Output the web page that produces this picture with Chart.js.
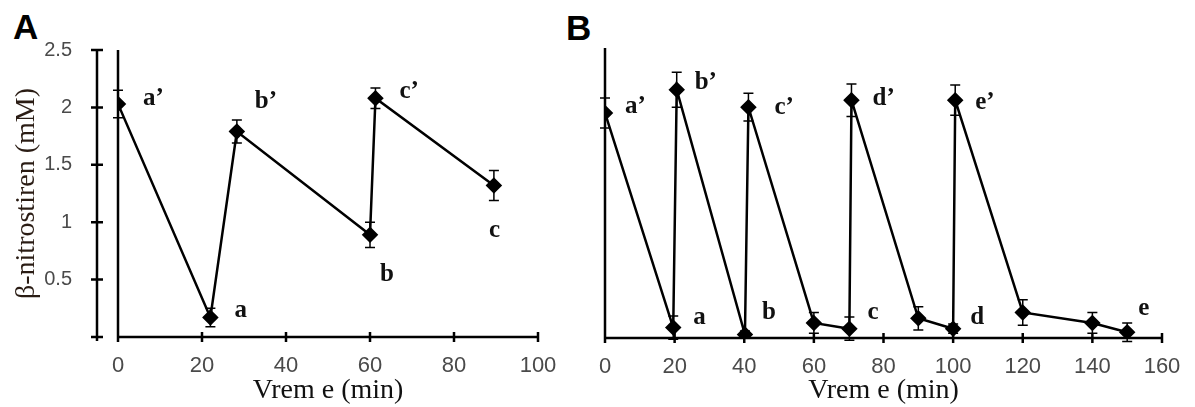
<!DOCTYPE html>
<html>
<head>
<meta charset="utf-8">
<script src="https://cdn.jsdelivr.net/npm/chart.js@4/dist/chart.umd.min.js"></script>
<style>
  body { margin: 0; background: #fff; width: 1195px; height: 407px; position: relative; overflow: hidden; }
  canvas { position: absolute; top: 0; }
  .panel { position: absolute; font: bold 35px "Liberation Sans", Arial, sans-serif; color: #000; }
</style>
</head>
<body>
<div class="panel" style="left:13px; top:7px;">A</div>
<div class="panel" style="left:566px; top:8px;">B</div>
<canvas id="chartA" width="580" height="407" style="left:0"></canvas>
<canvas id="chartB" width="615" height="407" style="left:580px"></canvas>
<script>
// panel A: one run, three refills
var timeA = [0, 22, 28.3, 60, 61.3, 89.5];
var concA = [2.03, 0.17, 1.79, 0.89, 2.08, 1.32];
var errA = [0.12, 0.08, 0.1, 0.11, 0.09, 0.13];
var labelsA = ["a’", "a", "b’", "b", "c’", "c"];

// panel B: five refills
var timeB = [0, 19.6, 20.6, 40.2, 41.2, 60, 70.2, 70.8, 90, 100, 100.6, 120, 140, 150];
var concB = [1.94, 0.09, 2.14, 0.03, 1.99, 0.13, 0.08, 2.05, 0.17, 0.08, 2.05, 0.22, 0.13, 0.05];
var errB = [0.13, 0.1, 0.15, 0.03, 0.12, 0.09, 0.1, 0.14, 0.1, 0.04, 0.13, 0.11, 0.09, 0.08];
var labelsB = ["a’", "a", "b’", "b", "c’", "", "c", "d’", "", "d", "e’", "", "", "e"];

var xTitle = "Vrem e (min)";
var yTitle = "β-nitrostiren (mM)";

// where each letter sits relative to its point (px)
var labelOffsetsA = [[25, -5], [24, -7], [18, -30], [10, 40], [24, -7], [-5, 45]];
var labelOffsetsB = [[20, -6], [20, -10], [18, -7], [17, -22], [26, 0], [0, 0],
                     [18, -16], [21, -2], [0, 0], [17, -11], [20, 2], [0, 0], [0, 0], [11, -24]];

var SANS = '"Liberation Sans", Arial, sans-serif';
var SERIF = '"Liberation Serif", "Times New Roman", serif';

function toPoints(xs, ys) {
  var pts = [];
  for (var i = 0; i < xs.length; i++) pts.push({ x: xs[i], y: ys[i] });
  return pts;
}

// axis lines with ticks crossing the line, like the original figure
var crossAxes = {
  id: "crossAxes",
  beforeDatasetsDraw: function (chart, args, opts) {
    var ctx = chart.ctx, x = chart.scales.x, y = chart.scales.y;
    var y0 = y.getPixelForValue(0), yTop = y.getPixelForValue(y.max);
    var x0 = x.getPixelForValue(0), xEnd = x.getPixelForValue(x.max);
    ctx.save();
    ctx.strokeStyle = "#000";
    ctx.lineWidth = 2.5;
    ctx.beginPath();
    ctx.moveTo(x0, y0); ctx.lineTo(xEnd, y0);
    ctx.moveTo(x0, y0); ctx.lineTo(x0, yTop);
    x.ticks.forEach(function (t) {
      var px = x.getPixelForValue(t.value);
      ctx.moveTo(px, y0 - 5); ctx.lineTo(px, y0 + 5);
    });
    ctx.stroke();
    if (opts.yShift) {
      var ax = x0 - opts.yShift;
      ctx.beginPath();
      ctx.moveTo(ax, y0 + 4); ctx.lineTo(ax, yTop);
      y.ticks.forEach(function (t) {
        var py = y.getPixelForValue(t.value);
        ctx.moveTo(ax - 6, py); ctx.lineTo(ax + 6, py);
      });
      ctx.stroke();
    }
    ctx.restore();
  },
  afterDatasetsDraw: function (chart, args, opts) {
    var ctx = chart.ctx, y = chart.scales.y;
    var meta = chart.getDatasetMeta(0);
    var ds = chart.data.datasets[0];
    ctx.save();
    ctx.strokeStyle = "#000";
    ctx.lineWidth = 1.5;
    meta.data.forEach(function (el, i) {
      var v = ds.data[i].y, e = opts.errors[i];
      var top = y.getPixelForValue(v + e), bot = y.getPixelForValue(v - e);
      ctx.beginPath();
      ctx.moveTo(el.x, top); ctx.lineTo(el.x, bot);
      ctx.moveTo(el.x - 5, top); ctx.lineTo(el.x + 5, top);
      ctx.moveTo(el.x - 5, bot); ctx.lineTo(el.x + 5, bot);
      ctx.stroke();
    });
    ctx.fillStyle = "#111";
    ctx.font = "bold 25px " + SERIF;
    ctx.textBaseline = "middle";
    ctx.textAlign = "left";
    meta.data.forEach(function (el, i) {
      var txt = opts.labels[i];
      if (!txt) return;
      var off = opts.offsets[i];
      ctx.fillText(txt, el.x + off[0], el.y + off[1]);
    });
    ctx.restore();
  }
};

function makePanel(canvas, xs, ys, errs, labels, offsets, cfg) {
  new Chart(canvas, {
    type: "scatter",
    data: {
      datasets: [{
        data: toPoints(xs, ys),
        showLine: true,
        borderColor: "#000",
        borderWidth: 2.5,
        pointStyle: "rectRot",
        pointRadius: 6.5,
        pointBackgroundColor: "#000",
        pointBorderColor: "#000",
      }],
    },
    options: {
      responsive: false,
      animation: false,
      layout: { padding: cfg.padding },
      plugins: {
        legend: { display: false },
        tooltip: { enabled: false },
        crossAxes: { yShift: cfg.yShift, errors: errs, labels: labels, offsets: offsets },
      },
      scales: {
        x: {
          type: "linear",
          min: 0,
          max: cfg.xMax,
          grid: { display: false },
          border: { display: false },
          ticks: { stepSize: 20, color: "#4a4a4a", font: { family: SANS, size: 22 }, padding: 8 },
          title: { display: true, text: xTitle, color: "#111", font: { family: SERIF, size: 28 }, padding: { top: 0, bottom: 0 } },
          afterFit: function (s) { s.height = cfg.xHeight; },
        },
        y: {
          min: 0,
          max: 2.5,
          grid: { display: false },
          border: { display: false },
          ticks: {
            display: cfg.yLabels,
            stepSize: 0.5,
            color: "#4a4a4a",
            font: { family: SANS, size: 20 },
            padding: 38,
            callback: function (v) { return v === 0 ? "" : v; },
          },
          title: { display: cfg.yLabels, text: yTitle, color: "#2a1c14", font: { family: SERIF, size: 28 }, padding: { top: 10, bottom: 0 } },
          afterFit: function (s) { s.width = cfg.yWidth; },
        },
      },
    },
    plugins: [crossAxes],
  });
}

makePanel(document.getElementById("chartA"), timeA, concA, errA, labelsA, labelOffsetsA, {
  padding: { left: 0, top: 43, right: 42, bottom: 0 },
  xMax: 100, xHeight: 70, yWidth: 118, yShift: 21, yLabels: true,
});
makePanel(document.getElementById("chartB"), timeB, concB, errB, labelsB, labelOffsetsB, {
  padding: { left: 0, top: 48, right: 33, bottom: 0 },
  xMax: 160, xHeight: 69, yWidth: 25, yShift: 0, yLabels: false,
});
</script>
</body>
</html>
